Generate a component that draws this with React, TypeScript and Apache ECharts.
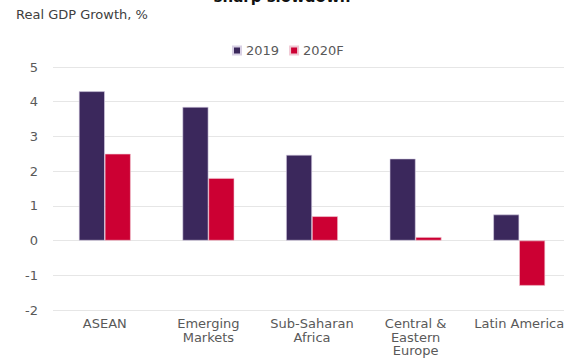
import React, { useEffect, useRef } from "react";
import * as echarts from "echarts";

const categories = ["ASEAN", "Emerging\nMarkets", "Sub-Saharan\nAfrica", "Central &\nEastern\nEurope", "Latin America"];
const values2019 = [4.3, 3.85, 2.47, 2.36, 0.75];
const values2020 = [2.5, 1.8, 0.7, 0.1, -1.3];
const seriesNames = ["2019", "2020F"];
const yTicks = { min: -2, max: 5, interval: 1 };

const FONT = "DejaVu Sans, Liberation Sans, sans-serif";

export default function App() {
  const ref = useRef<HTMLDivElement>(null);
  useEffect(() => {
    const chart = echarts.init(ref.current!, null, { renderer: "svg" });
    chart.setOption({
      animation: false,
      textStyle: { fontFamily: FONT },
      graphic: [
        {
          type: "text",
          left: "center",
          top: -11,
          style: { text: "sharp slowdown", font: "bold 15px " + FONT, fill: "#111" },
        },
        {
          type: "text",
          left: 16,
          top: 8,
          style: { text: "Real GDP Growth, %", font: "13px " + FONT, fill: "#404040" },
        },
      ],
      legend: {
        data: seriesNames,
        top: 39,
        left: 227,
        itemWidth: 8,
        itemHeight: 8,
        itemGap: 10,
        icon: "rect",
        textStyle: { fontSize: 13, color: "#595959", fontFamily: FONT },
      },
      grid: { left: 53, top: 67, width: 518, height: 243, containLabel: false, outerBoundsMode: "none" },
      xAxis: {
        type: "category",
        data: categories,
        axisLine: { show: false },
        axisTick: { show: false },
        axisLabel: { color: "#595959", fontSize: 13, lineHeight: 13.5, margin: 7, interval: 0, hideOverlap: false, fontFamily: FONT },
      },
      yAxis: {
        type: "value",
        min: yTicks.min,
        max: yTicks.max,
        interval: yTicks.interval,
        axisLine: { show: false },
        axisTick: { show: false },
        axisLabel: { color: "#595959", fontSize: 13, margin: 15, fontFamily: FONT },
        splitLine: { lineStyle: { color: "#e6e6e6", width: 1 } },
      },
      series: [
        {
          name: seriesNames[0],
          type: "bar",
          data: values2019,
          barWidth: "25%",
          barGap: "0%",
          itemStyle: { color: "#3b285c", borderColor: "#d8d0e4", borderWidth: 0.6 },
        },
        {
          name: seriesNames[1],
          type: "bar",
          data: values2020,
          barWidth: "25%",
          itemStyle: { color: "#cc0033", borderColor: "#f0c8d4", borderWidth: 0.6 },
        },
      ],
    });
    return () => chart.dispose();
  }, []);
  return <div ref={ref} style={{ position: "absolute", left: 0, top: 0, width: 564, height: 358 }} />;
}
